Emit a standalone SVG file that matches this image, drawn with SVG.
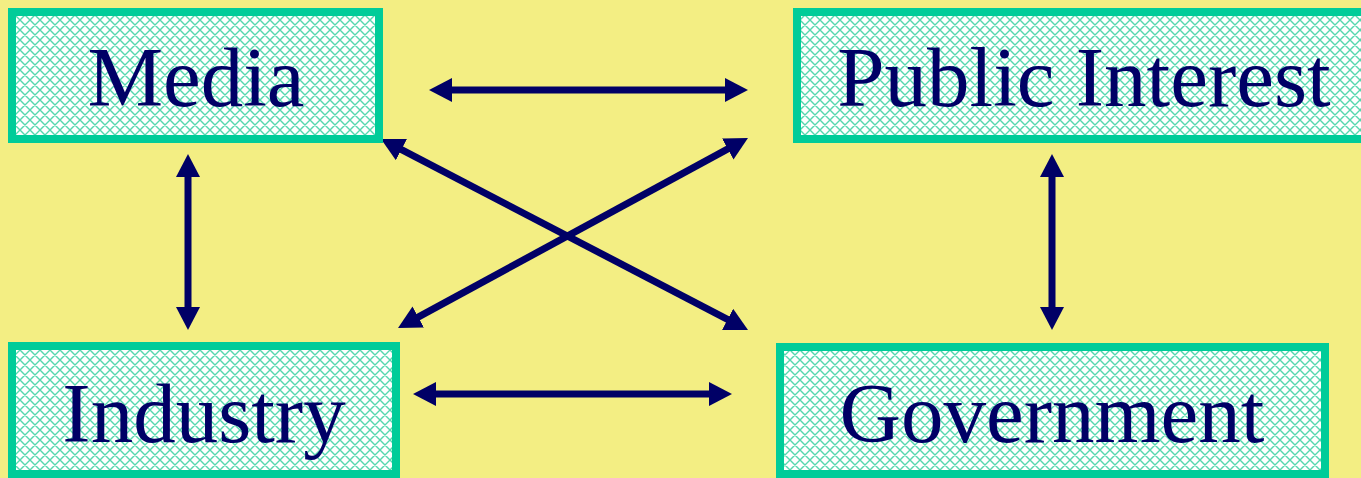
<svg xmlns="http://www.w3.org/2000/svg" width="1361" height="478" viewBox="0 0 1361 478">
<style>
.box{fill:url(#hatch);stroke:#00CC99;stroke-width:8}
.lbl{font-family:"Liberation Serif","Times New Roman",serif;font-size:85px;fill:#000066;text-anchor:middle}
.conn{stroke:#000066;stroke-width:7;fill:none;marker-start:url(#ah);marker-end:url(#ah)}
</style>
<defs>
<pattern id="hatch" patternUnits="userSpaceOnUse" width="10" height="10">
<rect width="10" height="10" fill="#FFFFFF"/>
<path d="M0,0 L10,10 M10,0 L0,10 M-1,9 L1,11 M9,-1 L11,1 M-1,1 L1,-1 M9,11 L11,9" stroke="#55D8AE" stroke-width="1.4"/>
</pattern>
<marker id="ah" markerUnits="userSpaceOnUse" viewBox="0 0 23 24" markerWidth="23" markerHeight="24" refX="8" refY="12" orient="auto-start-reverse">
<path d="M0,0 L23,12 L0,24 z" fill="#000066"/>
</marker>
</defs>
<rect width="1361" height="478" fill="#F3EE83"/>
<g id="connectors">
<line class="conn" x1="444" y1="90" x2="733" y2="90"/>
<line class="conn" x1="428" y1="394" x2="717" y2="394"/>
<line class="conn" x1="188" y1="169" x2="188" y2="315"/>
<line class="conn" x1="1052" y1="169" x2="1052" y2="315"/>
<line class="conn" x1="394.3" y1="145.9" x2="734.7" y2="323.1"/>
<line class="conn" x1="411.2" y1="320.8" x2="734.8" y2="145.2"/>
</g>
<g id="media">
<rect class="box" x="12" y="12" width="367" height="127"/>
<text class="lbl" x="196" y="106">Media</text>
</g>
<g id="public-interest">
<rect class="box" x="797" y="12" width="600" height="127"/>
<text class="lbl" x="1084" y="106">Public Interest</text>
</g>
<g id="industry">
<rect class="box" x="12" y="346" width="384" height="128"/>
<text class="lbl" x="204" y="442">Industry</text>
</g>
<g id="government">
<rect class="box" x="780" y="347" width="545" height="127"/>
<text class="lbl" x="1052" y="442">Government</text>
</g>
</svg>
